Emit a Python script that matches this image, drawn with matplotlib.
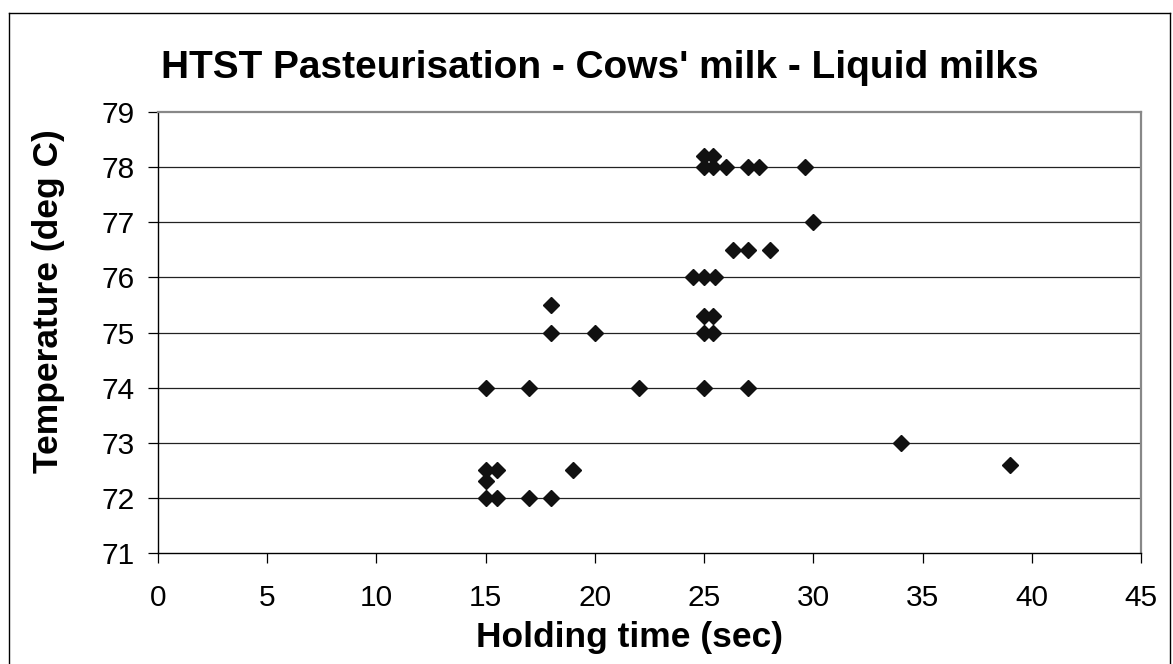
import matplotlib
matplotlib.use("Agg")
import matplotlib.pyplot as plt
from matplotlib.lines import Line2D

plt.rcParams['font.family'] = ['Liberation Sans', 'DejaVu Sans']

holding_time = [25, 25.4,
                25, 25.4, 26, 27, 27.5, 29.6,
                30,
                26.3, 27, 28,
                24.5, 25, 25.5,
                18,
                25, 25.4,
                18, 20, 25, 25.4,
                15, 17, 22, 25, 27,
                34,
                39,
                15, 15.5, 19,
                15,
                15, 15.5, 17, 18]
temperature = [78.2, 78.2,
               78, 78, 78, 78, 78, 78,
               77,
               76.5, 76.5, 76.5,
               76, 76, 76,
               75.5,
               75.3, 75.3,
               75, 75, 75, 75,
               74, 74, 74, 74, 74,
               73,
               72.6,
               72.5, 72.5, 72.5,
               72.3,
               72, 72, 72, 72]

x_ticks = [0, 5, 10, 15, 20, 25, 30, 35, 40, 45]
y_ticks = [71, 72, 73, 74, 75, 76, 77, 78, 79]

W, H = 1173, 664
fig = plt.figure(figsize=(W / 100, H / 100), dpi=100)
ax = fig.add_axes([158 / W, 1 - 553 / H, (1141 - 158) / W, (553 - 112) / H])

ax.plot(holding_time, temperature, linestyle='none', marker='D',
        markersize=8.6, color='#111111', zorder=3, clip_on=False)

ax.set_xlim(0, 45)
ax.set_ylim(71, 79)
ax.set_xticks(x_ticks)
ax.set_yticks(y_ticks)
ax.set_xticklabels([str(v) for v in x_ticks])
ax.set_yticklabels([str(v) for v in y_ticks])

for yv in y_ticks[1:-1]:
    ax.axhline(yv, color='#222222', linewidth=0.9, zorder=1)

ax.spines['top'].set_color('#888888')
ax.spines['right'].set_color('#888888')
ax.spines['top'].set_linewidth(1.6)
ax.spines['right'].set_linewidth(1.6)
ax.spines['left'].set_color('black')
ax.spines['bottom'].set_color('black')
ax.spines['left'].set_linewidth(1.0)
ax.spines['bottom'].set_linewidth(1.0)

ax.tick_params(axis='both', direction='out', length=7, width=0.9, color='black',
               labelsize=21.5)
ax.tick_params(axis='x', pad=15)
ax.tick_params(axis='y', pad=10)

ax.set_xlabel('Holding time (sec)', fontsize=25.5, fontweight='bold')
ax.set_ylabel('Temperature (deg C)', fontsize=25.5, fontweight='bold')
ax.xaxis.set_label_coords((629 - 158) / (1141 - 158), -(638 - 553) / (553 - 112))
ax.yaxis.set_label_coords(-(158 - 49) / (1141 - 158), (553 - 301) / (553 - 112))
ax.xaxis.label.set_va('center')
ax.yaxis.label.set_va('center')

fig.text(600 / W, 1 - 68 / H, "HTST Pasteurisation - Cows' milk - Liquid milks",
         ha='center', va='center', fontsize=28, fontweight='bold')

# outer chart border
fig.add_artist(Line2D([9 / W, 9 / W], [0, 1 - 13 / H], transform=fig.transFigure,
                      color='black', linewidth=1.0))
fig.add_artist(Line2D([9 / W, 1170 / W], [1 - 13 / H, 1 - 13 / H], transform=fig.transFigure,
                      color='black', linewidth=1.0))
fig.add_artist(Line2D([1170 / W, 1170 / W], [0, 1 - 13 / H], transform=fig.transFigure,
                      color='black', linewidth=1.0))

fig.savefig('out.png', dpi=100)
